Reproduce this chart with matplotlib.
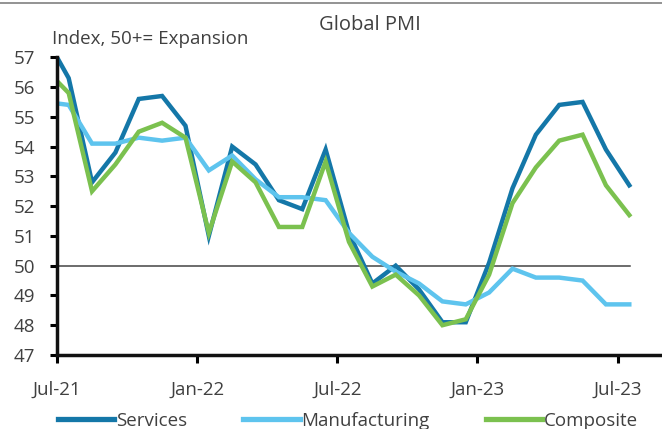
import matplotlib
matplotlib.use("Agg")
import matplotlib.pyplot as plt
from matplotlib.lines import Line2D
import numpy as np

plt.rcParams['font.family'] = ['Open Sans', 'DejaVu Sans']

# monthly data, Jun-21 .. Jul-23
months = ["Jun-21", "Jul-21", "Aug-21", "Sep-21", "Oct-21", "Nov-21", "Dec-21",
          "Jan-22", "Feb-22", "Mar-22", "Apr-22", "May-22", "Jun-22", "Jul-22",
          "Aug-22", "Sep-22", "Oct-22", "Nov-22", "Dec-22", "Jan-23", "Feb-23",
          "Mar-23", "Apr-23", "May-23", "Jun-23", "Jul-23"]
services = [57.7, 56.3, 52.8, 53.8, 55.6, 55.7, 54.7, 51.0, 54.0, 53.4, 52.2, 51.9, 53.9,
            51.1, 49.4, 50.0, 49.2, 48.1, 48.1, 50.1, 52.6, 54.4, 55.4, 55.5, 53.9, 52.7]
manufacturing = [55.5, 55.4, 54.1, 54.1, 54.3, 54.2, 54.3, 53.2, 53.7, 52.9, 52.3, 52.3, 52.2,
                 51.1, 50.3, 49.8, 49.4, 48.8, 48.7, 49.1, 49.9, 49.6, 49.6, 49.5, 48.7, 48.7]
composite = [56.6, 55.8, 52.5, 53.4, 54.5, 54.8, 54.3, 51.1, 53.5, 52.8, 51.3, 51.3, 53.5,
             50.8, 49.3, 49.7, 49.0, 48.0, 48.2, 49.7, 52.1, 53.3, 54.2, 54.4, 52.7, 51.7]
tick_labels = ["Jul-21", "Jan-22", "Jul-22", "Jan-23", "Jul-23"]

c_serv = "#1477a8"
c_manu = "#5ec4ee"
c_comp = "#7bc14f"
txt = "#404040"
fs = 13.5

fig = plt.figure(figsize=(6.62, 4.29), dpi=100)
ax = fig.add_axes([0.0861, 0.1725, 0.9139, 0.694])

# month index: Jul-21 starts at 0, points sit mid-month
x = np.arange(len(months)) - 0.5

ax.plot(x, services, color=c_serv, lw=3.2, solid_joinstyle="miter", label="Services")
ax.plot(x, manufacturing, color=c_manu, lw=3.2, solid_joinstyle="miter", label="Manufacturing")
ax.plot(x, composite, color=c_comp, lw=3.2, solid_joinstyle="miter", label="Composite")
ax.plot([x[0], x[-1] + 0.05], [50, 50], color="#444444", lw=1.1, zorder=1)

ax.set_xlim(0, 25.9)
ax.set_ylim(47, 57)
ax.set_yticks(range(47, 58))
ax.set_xticks([0, 6, 12, 18, 24])
ax.set_xticklabels(tick_labels)

for s in ["top", "right"]:
    ax.spines[s].set_visible(False)
for s in ["left", "bottom"]:
    ax.spines[s].set_linewidth(2.5)
    ax.spines[s].set_color("#111111")
ax.tick_params(axis="y", length=5, width=2.2, pad=11, labelsize=fs, labelcolor=txt)
ax.tick_params(axis="x", length=6, width=2.2, pad=12.5, labelsize=fs, labelcolor=txt)

fig.text(370 / 662, 1 - 25 / 429, "Global PMI", ha="center", va="center", fontsize=14.5, color=txt)
fig.text(52 / 662, 1 - 39 / 429, "Index, 50+= Expansion", ha="left", va="center", fontsize=fs, color=txt)
fig.add_artist(Line2D([0, 1], [1 - 3 / 429, 1 - 3 / 429], color="#8a8a8a", lw=1.3))

leg = fig.legend(loc="center", bbox_to_anchor=(348 / 662, 1 - 421 / 429), ncol=3, frameon=False,
                 handlelength=3.0, handletextpad=0.1, columnspacing=3.0, fontsize=fs)
for t in leg.get_texts():
    t.set_color(txt)
for h in leg.get_lines():
    h.set_linewidth(3.8)

fig.savefig("out.png", dpi=100)
